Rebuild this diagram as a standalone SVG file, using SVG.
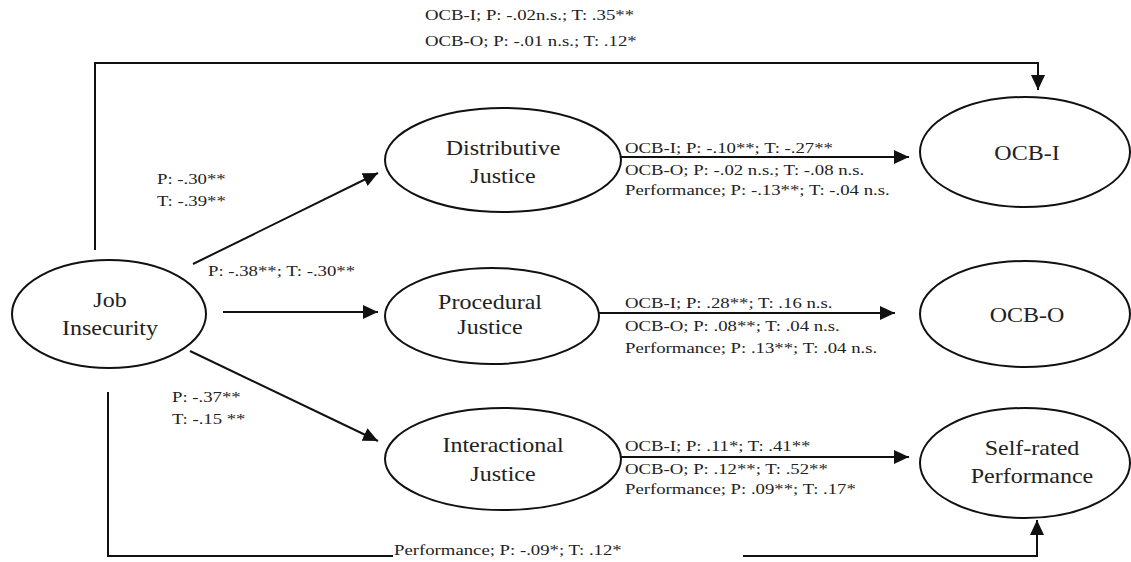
<svg xmlns="http://www.w3.org/2000/svg" width="1131" height="562" viewBox="0 0 1131 562">
<defs>
<marker id="ah" markerUnits="userSpaceOnUse" markerWidth="16" markerHeight="14" refX="15" refY="7" orient="auto">
<path d="M0,0 L15,7 L0,14 z" fill="#111"/>
</marker>
<style>
.node ellipse{fill:#fff;stroke:#111;stroke-width:2}
.nt{font-family:"Liberation Serif",serif;font-size:20px;fill:#222;text-anchor:middle}
.lt text{font-family:"Liberation Serif",serif;font-size:15px;fill:#222}
.conn line,.conn polyline{stroke:#111;stroke-width:2;fill:none}
</style>
</defs>
<rect width="1131" height="562" fill="#fff"/>
<g class="conn" id="connectors">
<polyline points="95,250 95,63 1038,63 1038,90" marker-end="url(#ah)"/>
<line x1="193" y1="264" x2="378" y2="173" marker-end="url(#ah)"/>
<line x1="223" y1="312" x2="378" y2="312" marker-end="url(#ah)"/>
<line x1="190" y1="351" x2="378" y2="441" marker-end="url(#ah)"/>
<line x1="621" y1="157" x2="909" y2="157" marker-end="url(#ah)"/>
<line x1="599" y1="313" x2="895" y2="313" marker-end="url(#ah)"/>
<line x1="621" y1="457" x2="909" y2="457" marker-end="url(#ah)"/>
<polyline points="108,392 108,556 393,556"/>
<polyline points="743,556 1037,556 1037,520" marker-end="url(#ah)"/>
<g class="lt">
<text transform="translate(425,20) scale(1.25 1)">OCB-I; P: -.02n.s.; T: .35**</text>
<text transform="translate(425,46) scale(1.25 1)">OCB-O; P: -.01 n.s.; T: .12*</text>
<text transform="translate(157,184) scale(1.25 1)">P: -.30**</text>
<text transform="translate(157,206) scale(1.25 1)">T: -.39**</text>
<text transform="translate(208,276) scale(1.25 1)">P: -.38**; T: -.30**</text>
<text transform="translate(172,402) scale(1.25 1)">P: -.37**</text>
<text transform="translate(172,424) scale(1.25 1)">T: -.15 **</text>
<text transform="translate(625,153) scale(1.25 1)">OCB-I; P: -.10**; T: -.27**</text>
<text transform="translate(625,175) scale(1.25 1)">OCB-O; P: -.02 n.s.; T: -.08 n.s.</text>
<text transform="translate(625,195) scale(1.25 1)">Performance; P: -.13**; T: -.04 n.s.</text>
<text transform="translate(625,308) scale(1.25 1)">OCB-I; P: .28**; T: .16 n.s.</text>
<text transform="translate(625,331) scale(1.25 1)">OCB-O; P: .08**; T: .04 n.s.</text>
<text transform="translate(625,353) scale(1.25 1)">Performance; P: .13**; T: .04 n.s.</text>
<text transform="translate(625,451) scale(1.25 1)">OCB-I; P: .11*; T: .41**</text>
<text transform="translate(625,474) scale(1.25 1)">OCB-O; P: .12**; T: .52**</text>
<text transform="translate(625,494) scale(1.25 1)">Performance; P: .09**; T: .17*</text>
<text transform="translate(394,555) scale(1.25 1)">Performance; P: -.09*; T: .12*</text>
</g>
</g>
<g class="node" id="job-insecurity">
<ellipse cx="109" cy="314" rx="97" ry="54"/>
<text class="nt" transform="translate(110,307) scale(1.2 1)">Job</text>
<text class="nt" transform="translate(110,335) scale(1.2 1)">Insecurity</text>
</g>
<g class="node" id="distributive-justice">
<ellipse cx="503" cy="160" rx="118" ry="52"/>
<text class="nt" transform="translate(503,155) scale(1.2 1)">Distributive</text>
<text class="nt" transform="translate(503,183) scale(1.2 1)">Justice</text>
</g>
<g class="node" id="procedural-justice">
<ellipse cx="492" cy="316" rx="107" ry="48"/>
<text class="nt" transform="translate(490,309) scale(1.2 1)">Procedural</text>
<text class="nt" transform="translate(490,334) scale(1.2 1)">Justice</text>
</g>
<g class="node" id="interactional-justice">
<ellipse cx="503" cy="459" rx="118" ry="51"/>
<text class="nt" transform="translate(503,452) scale(1.2 1)">Interactional</text>
<text class="nt" transform="translate(503,481) scale(1.2 1)">Justice</text>
</g>
<g class="node" id="ocb-i">
<ellipse cx="1025" cy="152" rx="105" ry="55"/>
<text class="nt" transform="translate(1027,160) scale(1.2 1)">OCB-I</text>
</g>
<g class="node" id="ocb-o">
<ellipse cx="1025" cy="314" rx="105" ry="53"/>
<text class="nt" transform="translate(1027,322) scale(1.2 1)">OCB-O</text>
</g>
<g class="node" id="self-rated-performance">
<ellipse cx="1025" cy="463" rx="105" ry="55"/>
<text class="nt" transform="translate(1032,455) scale(1.2 1)">Self-rated</text>
<text class="nt" transform="translate(1032,483) scale(1.2 1)">Performance</text>
</g>
</svg>
